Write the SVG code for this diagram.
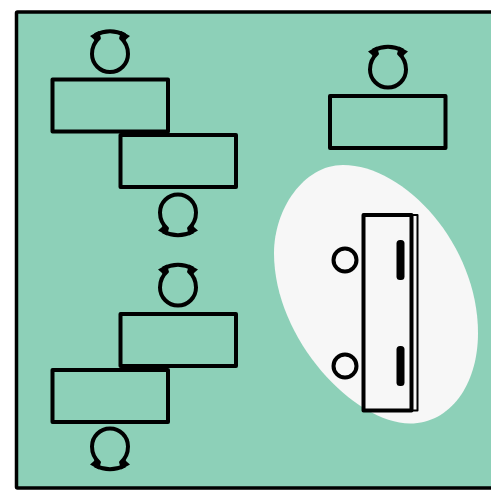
<svg xmlns="http://www.w3.org/2000/svg" width="491" height="491" viewBox="0 0 491 491">
  <style>
    .s{fill:none;stroke:#000;stroke-width:4;stroke-linejoin:round;stroke-linecap:round}
    .t{fill:none;stroke:#000;stroke-width:4;stroke-linejoin:round}
    .thin{fill:none;stroke:#000;stroke-width:2;stroke-linejoin:round}
    .bar{fill:#000}
  </style>
  <defs>
    <g id="loop">
      <path class="t" d="M-10.5,-17 C-15,-13 -18,-7 -18,-0.5 A18,18 0 0 0 18,-0.5 C18,-7 15,-13 10.5,-17"/>
      <path class="t" d="M-15,-19.5 Q0,-27 15,-19.5"/>
      <path d="M-20,-18.5 L-11,-23.5 L-9,-16 L-15,-13.5 L-16.5,-15.5 Z M20,-18.5 L11,-23.5 L9,-16 L15,-13.5 L16.5,-15.5 Z" fill="#000"/>
    </g>
  </defs>
  <rect width="491" height="491" fill="#fff"/>
  <g id="room"><rect x="16.5" y="12" width="490" height="476" rx="1" fill="#8dd0b8" stroke="#000" stroke-width="3.5"/></g>
  <g id="area"><path d="M343,165 C405,165 478,245 478,333 C478,385 450,423.5 410,423.5 C355,423.5 274,340 274,253 C274,210 303,165 343,165 Z" fill="#f7f7f7"/></g>
  <g id="desk-1"><rect class="s" x="52.5" y="79.5" width="115.5" height="52"/><use href="#loop" transform="translate(110,54.5)"/></g>
  <g id="desk-2"><rect class="s" x="120.5" y="135" width="115.5" height="52"/><use href="#loop" transform="translate(178,212) scale(1,-1)"/></g>
  <g id="desk-3"><rect class="s" x="330" y="96" width="115.5" height="52"/><use href="#loop" transform="translate(388,70)"/></g>
  <g id="desk-4"><rect class="s" x="120.5" y="314" width="115.5" height="52"/><use href="#loop" transform="translate(178,288)"/></g>
  <g id="desk-5"><rect class="s" x="52.5" y="370" width="115.5" height="52"/><use href="#loop" transform="translate(110,446) scale(1,-1)"/></g>
  <g id="table">
    <rect class="thin" x="363.5" y="215" width="54" height="195.5"/>
    <rect class="s" x="363.5" y="215" width="48" height="195.5"/>
    <rect class="bar" x="396.5" y="240" width="8" height="40" rx="3.5"/>
    <rect class="bar" x="396.5" y="346" width="8" height="40" rx="3.5"/>
  </g>
  <g id="seat-1"><circle class="t" cx="345" cy="260" r="11.5"/></g>
  <g id="seat-2"><circle class="t" cx="345" cy="366" r="11.5"/></g>
  <g id="connectors"/>
</svg>
